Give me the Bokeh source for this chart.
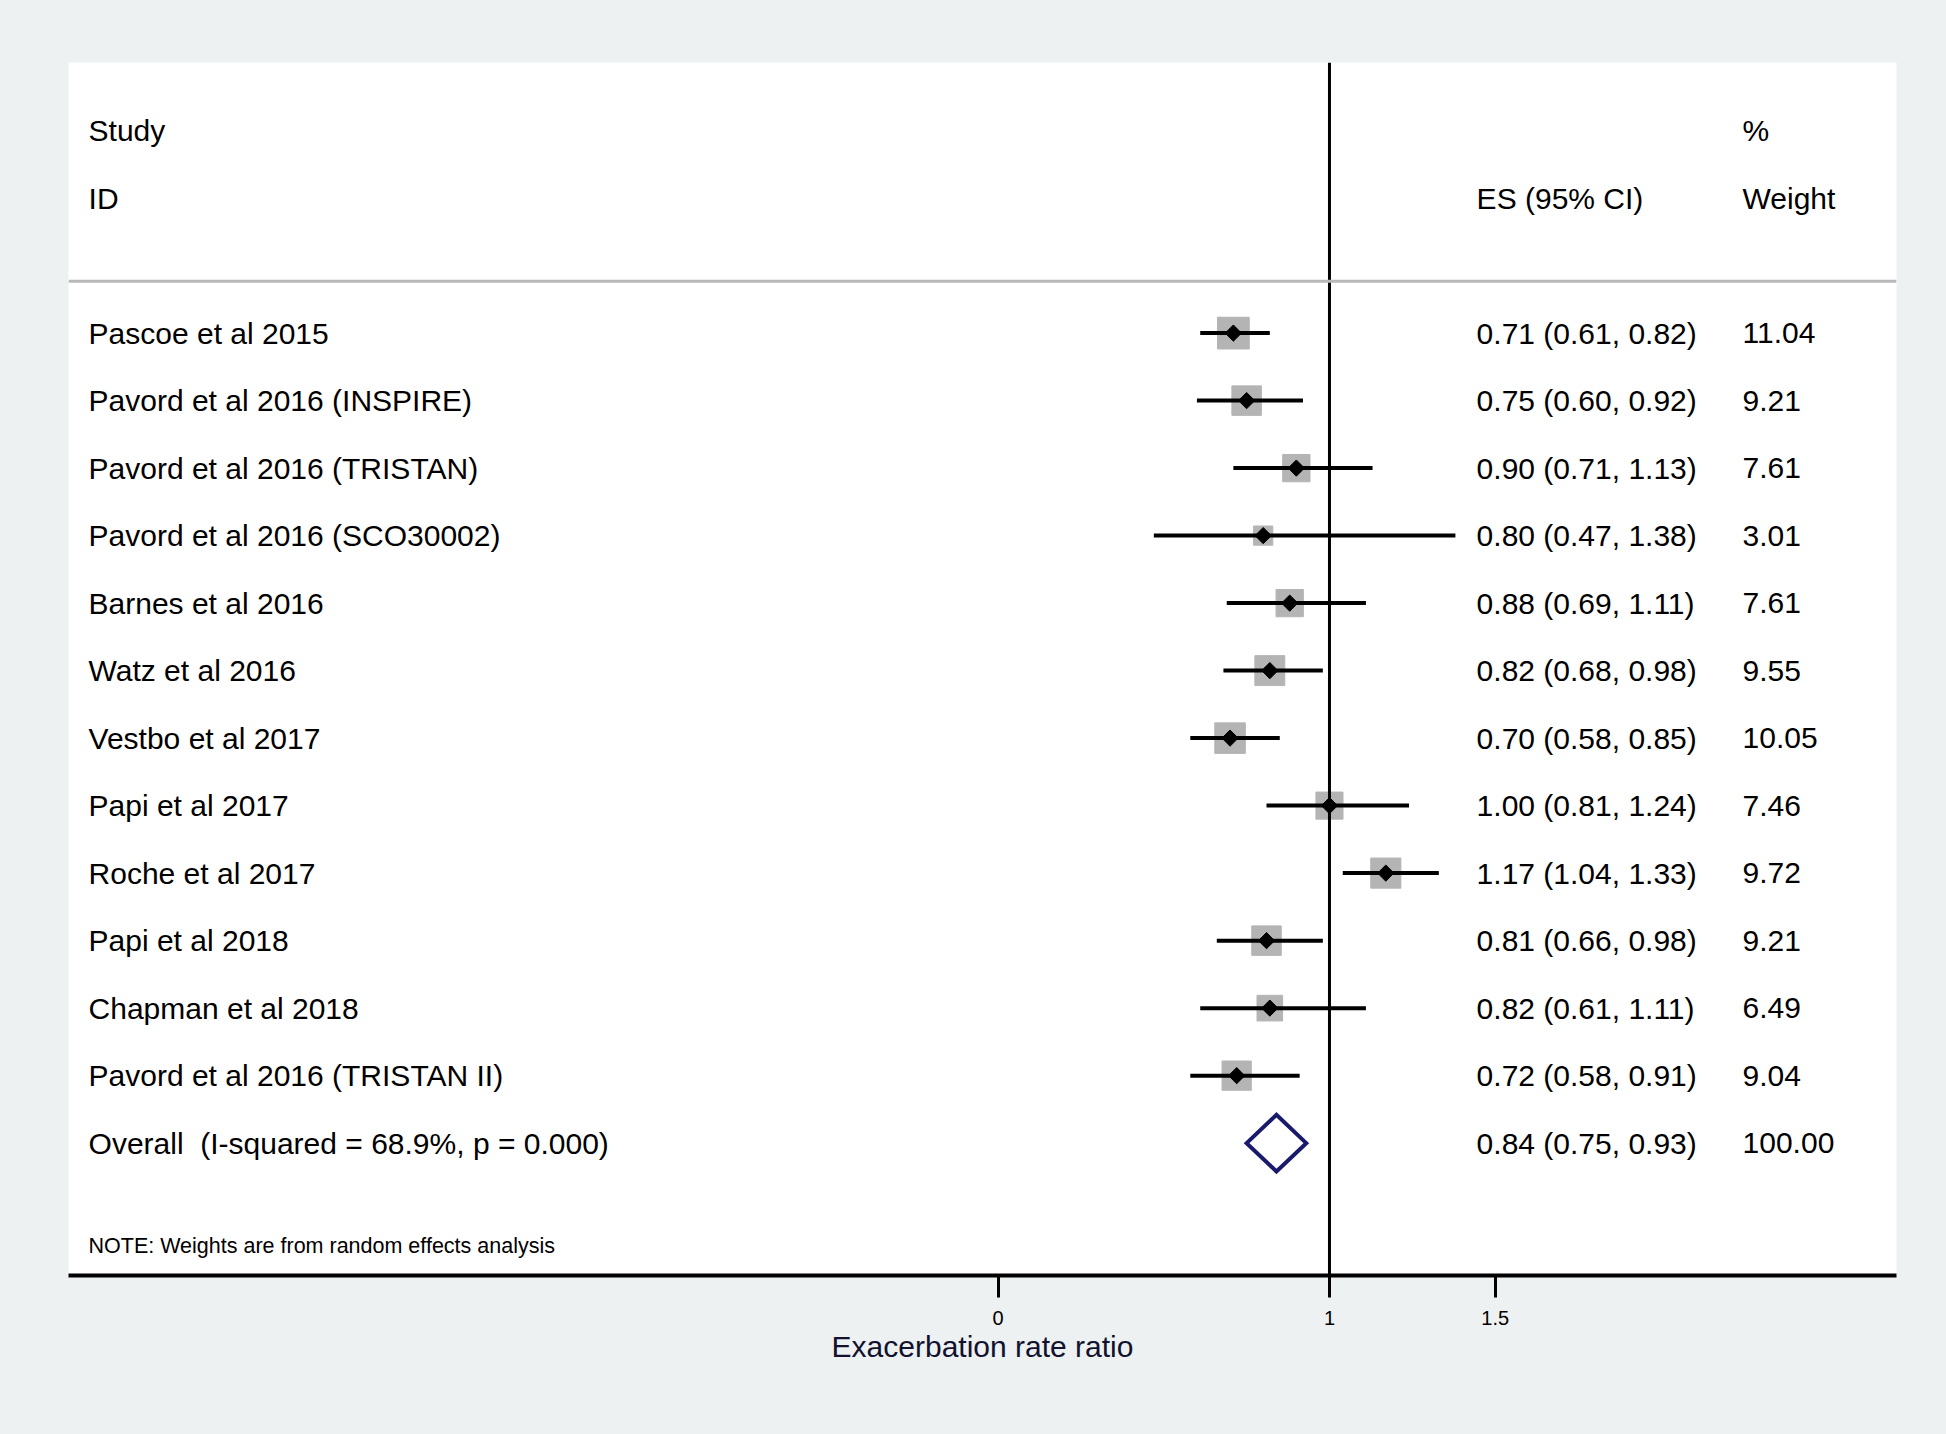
import numpy as np
from bokeh.plotting import figure
from bokeh.models import ColumnDataSource, Range1d, FixedTicker, Span
from bokeh.core.properties import value
from bokeh.embed import file_html
from bokeh.resources import INLINE

# ---------------- data ----------------
studies = ["Pascoe et al 2015", "Pavord et al 2016 (INSPIRE)", "Pavord et al 2016 (TRISTAN)",
           "Pavord et al 2016 (SCO30002)", "Barnes et al 2016", "Watz et al 2016",
           "Vestbo et al 2017", "Papi et al 2017", "Roche et al 2017", "Papi et al 2018",
           "Chapman et al 2018", "Pavord et al 2016 (TRISTAN II)"]
es = [0.71, 0.75, 0.90, 0.80, 0.88, 0.82, 0.70, 1.00, 1.17, 0.81, 0.82, 0.72]
lo = [0.61, 0.60, 0.71, 0.47, 0.69, 0.68, 0.58, 0.81, 1.04, 0.66, 0.61, 0.58]
hi = [0.82, 0.92, 1.13, 1.38, 1.11, 0.98, 0.85, 1.24, 1.33, 0.98, 1.11, 0.91]
weights = [11.04, 9.21, 7.61, 3.01, 7.61, 9.55, 10.05, 7.46, 9.72, 9.21, 6.49, 9.04]

overall_label = "Overall\u00a0 (I-squared = 68.9%, p = 0.000)"
overall_es, overall_lo, overall_hi, overall_w = 0.84, 0.75, 0.93, 100.00

tick_vals = [0, 1, 1.5]
tick_labels = ["0", "1", "1.5"]
note = "NOTE: Weights are from random effects analysis"
x_title = "Exacerbation rate ratio"

# ---------------- layout ----------------
FONT = value("Liberation Sans")
BG = "#edf1f2"
W, H = 1946, 1434

p = figure(width=W, height=H, output_backend="svg", toolbar_location=None,
           x_range=Range1d(-2.805, 2.711), y_range=Range1d(13.961, -4.009),
           y_axis_location=None, min_border_left=68, min_border_right=50,
           min_border_top=62, min_border_bottom=159)
p.background_fill_color = "white"
p.border_fill_color = BG
p.outline_line_color = None
p.xgrid.visible = False
p.ygrid.visible = False

rows = list(range(len(studies)))
n = len(studies)
src = ColumnDataSource(dict(
    y=rows, es=es, lo=lo, hi=hi, w=weights, study=studies,
    size=[7.9 * np.sqrt(v) + 5.5 for v in weights],
    ci=[f"{a:.2f} ({b:.2f}, {c:.2f})" for a, b, c in zip(es, lo, hi)],
    wt=[f"{v:.2f}" for v in weights],
))

# weight squares
p.scatter(x="es", y="y", size="size", marker="square", source=src,
          fill_color="#b4b4b4", line_color="#b4b4b4", line_width=1)
# CI lines
p.segment(x0="lo", x1="hi", y0="y", y1="y", source=src, line_color="black", line_width=4)
# point estimates
p.scatter(x="es", y="y", size=11.5, marker="square", angle=np.pi / 4, source=src,
          fill_color="black", line_color="black")

# overall diamond
oy = n
hh = 0.42
p.patch(x=[overall_lo, overall_es, overall_hi, overall_es],
        y=[oy, oy - hh, oy, oy + hh],
        fill_color=None, line_color="#1a1a6c", line_width=4, line_join="miter")

# null line & header separator
p.add_layout(Span(location=1, dimension="height", line_color="black", line_width=3))
p.add_layout(Span(location=-0.77, dimension="width", line_color="#b8b8b8", line_width=3))

# text columns
X_STUDY, X_ES, X_WT = -2.7445, 1.444, 2.2465
TS = value("30px")
common = dict(text_font=FONT, text_font_size=TS, text_baseline="middle",
              text_align="left", text_color="black")

p.text(x=X_STUDY, y="y", text="study", source=src, **common)
p.text(x=X_ES, y="y", text="ci", source=src, **common)
p.text(x=X_WT, y="y", text="wt", source=src, **common)

p.text(x=[X_STUDY, X_STUDY, X_ES, X_WT, X_WT], y=[-3, -2, -2, -3, -2],
       text=["Study", "ID", "ES (95% CI)", "%", "Weight"], **common)

p.text(x=[X_STUDY, X_ES, X_WT], y=[oy, oy, oy],
       text=[overall_label, f"{overall_es:.2f} ({overall_lo:.2f}, {overall_hi:.2f})",
             f"{overall_w:.2f}"], **common)

p.text(x=[X_STUDY], y=[13.52], text=[note], text_font=FONT,
       text_font_size=value("21.5px"), text_baseline="middle", text_align="left",
       text_color="black")

# x axis
ax = p.xaxis[0]
ax.ticker = FixedTicker(ticks=tick_vals)
ax.major_label_overrides = {v: s for v, s in zip(tick_vals, tick_labels)}
ax.axis_line_width = 4
ax.axis_line_color = "black"
ax.major_tick_line_width = 3
ax.major_tick_line_color = "black"
ax.major_tick_out = 22
ax.major_tick_in = 0
ax.minor_tick_line_color = None
ax.major_label_text_font = "Liberation Sans"
ax.major_label_text_font_size = "20px"
ax.major_label_text_color = "black"
ax.major_label_standoff = 13
ax.axis_label = x_title
ax.axis_label_text_font = "Liberation Sans"
ax.axis_label_text_font_size = "30px"
ax.axis_label_text_font_style = "normal"
ax.axis_label_text_color = "#12122e"
ax.axis_label_standoff = 2

html = file_html(p, INLINE)
html = html.replace("<head>", "<head><style>body{background:%s;}</style>" % BG, 1)
open("out.html", "w").write(html)
